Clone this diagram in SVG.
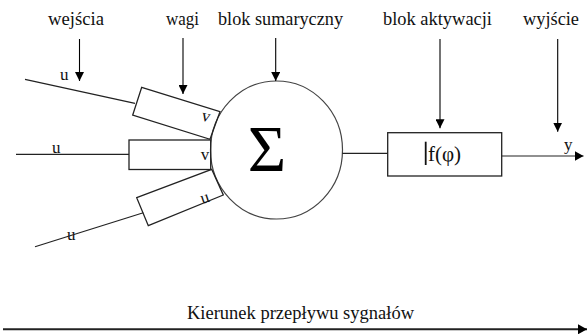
<svg xmlns="http://www.w3.org/2000/svg" width="587" height="334" viewBox="0 0 587 334">
  <style>
    .lbl { font-size: 18px; fill: #111; }
    .sym { font-size: 17px; fill: #111; }
    .wire { stroke: #222; stroke-width: 1.2; fill: none; }
    .box { stroke: #222; stroke-width: 1.3; fill: none; }
    .ptr { stroke: #000; stroke-width: 1.1; fill: none; marker-end: url(#head); }
  </style>
  <defs>
    <marker id="head" markerUnits="userSpaceOnUse" markerWidth="9" markerHeight="9" refX="9" refY="4.5" orient="auto">
      <path d="M0,0 L9,4.5 L0,9 Z" fill="#000"/>
    </marker>
    <marker id="headWide" markerUnits="userSpaceOnUse" markerWidth="9" markerHeight="10" refX="9" refY="5" orient="auto">
      <path d="M0,0 L9,5 L0,10 Z" fill="#000"/>
    </marker>
  </defs>

  <rect width="587" height="334" fill="#fff"/>

  <!-- captions above the neuron -->
  <g id="captions">
    <text class="lbl" font-family="'Liberation Serif'" x="48" y="25" textLength="56" lengthAdjust="spacingAndGlyphs">wejścia</text>
    <text class="lbl" font-family="'Liberation Serif'" x="166" y="25" textLength="33" lengthAdjust="spacingAndGlyphs">wagi</text>
    <text class="lbl" font-family="'Liberation Serif'" x="218" y="25" textLength="125" lengthAdjust="spacingAndGlyphs">blok sumaryczny</text>
    <text class="lbl" font-family="'Liberation Serif'" x="383" y="25" textLength="109" lengthAdjust="spacingAndGlyphs">blok aktywacji</text>
    <text class="lbl" font-family="'Liberation Serif'" x="523" y="25" textLength="56" lengthAdjust="spacingAndGlyphs">wyjście</text>
  </g>

  <!-- summing block -->
  <g id="sum">
    <ellipse cx="276.5" cy="150" rx="66" ry="69" fill="#fff" stroke="#444" stroke-width="1.2"/>
    <text font-family="'Liberation Serif'" x="267" y="171" text-anchor="middle" font-size="66" fill="#000">Σ</text>
  </g>

  <!-- weight blocks -->
  <g id="weight1">
    <polygon class="box" points="141.7,87.3 220,111.7 210,139.3 132.7,115"/>
    <text class="sym" font-family="'Liberation Serif'" x="206" y="121.5" text-anchor="middle" transform="rotate(14 206 117)">v</text>
  </g>
  <g id="weight2">
    <rect class="box" x="129" y="140" width="81.7" height="29.5"/>
    <text class="sym" font-family="'Liberation Serif'" x="205" y="160" text-anchor="middle">v</text>
  </g>
  <g id="weight3">
    <polygon class="box" points="136.7,197.7 211.7,169.3 223.3,195 148.3,225.7"/>
    <text class="sym" font-family="'Liberation Serif'" x="205" y="203" text-anchor="middle" transform="rotate(-18 205 199)">u</text>
  </g>

  <!-- inputs -->
  <g id="inputs">
    <text class="sym" font-family="'Liberation Serif'" x="60" y="79.5">u</text>
    <text class="sym" font-family="'Liberation Serif'" x="52" y="153">u</text>
    <text class="sym" font-family="'Liberation Serif'" x="67" y="240">u</text>
  </g>

  <!-- activation block -->
  <g id="activation">
    <rect class="box" x="387.7" y="132.7" width="114" height="43.3"/>
    <line x1="425.7" y1="141.7" x2="425.7" y2="165" stroke="#111" stroke-width="1.8"/>
    <text font-family="'Liberation Serif'" x="428" y="161" font-size="21" fill="#111">f(φ)</text>
  </g>

  <!-- output label -->
  <g id="output">
    <text class="sym" font-family="'Liberation Serif'" x="564" y="150">y</text>
  </g>

  <!-- connectors -->
  <g id="connectors">
    <line class="wire" x1="25" y1="79.3" x2="135" y2="103.3"/>
    <line class="wire" x1="16" y1="154.3" x2="129" y2="154.3"/>
    <line class="wire" x1="35" y1="246.7" x2="143.3" y2="212.7"/>
    <line class="wire" x1="342.3" y1="153.3" x2="387.7" y2="153.3"/>
    <line class="wire" x1="501.7" y1="156" x2="583.5" y2="156" marker-end="url(#headWide)"/>

    <line class="ptr" x1="79.5" y1="39" x2="79.5" y2="81"/>
    <line class="ptr" x1="183" y1="38" x2="183" y2="94"/>
    <line class="ptr" x1="275.7" y1="38" x2="275.7" y2="81"/>
    <line class="ptr" x1="440" y1="39" x2="440" y2="128.3"/>
    <line class="ptr" x1="557.7" y1="39" x2="557.7" y2="131.7"/>
  </g>

  <!-- signal direction -->
  <g id="direction">
    <text class="lbl" font-family="'Liberation Serif'" x="187" y="319" textLength="227" lengthAdjust="spacingAndGlyphs">Kierunek przepływu sygnałów</text>
    <line x1="3" y1="329.3" x2="587" y2="329.3" stroke="#222" stroke-width="2" marker-end="url(#headWide)"/>
  </g>
</svg>
